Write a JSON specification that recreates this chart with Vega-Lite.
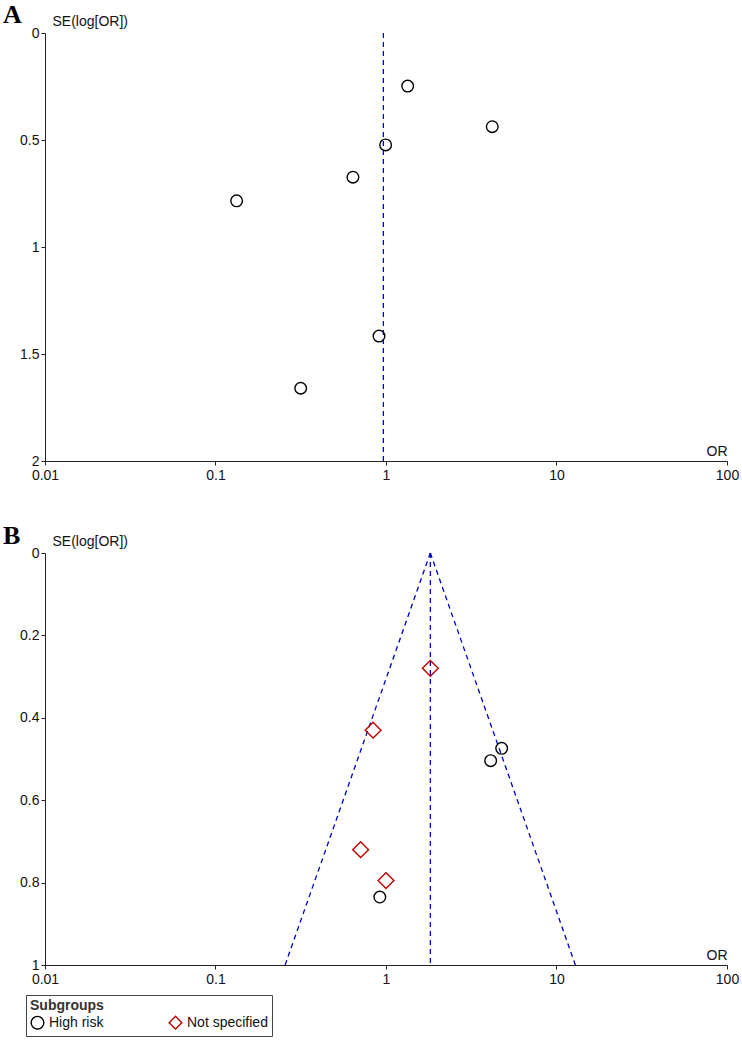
{
  "$schema": "https://vega.github.io/schema/vega-lite/v6.json",
  "background": "white",
  "padding": {"left": 3, "top": 2, "right": 5, "bottom": 0},
  "datasets": {
    "pointsA": [
      {"or": 1.34, "se": 0.248, "subgroup": "High risk"},
      {"or": 4.2, "se": 0.438, "subgroup": "High risk"},
      {"or": 0.995, "se": 0.523, "subgroup": "High risk"},
      {"or": 0.64, "se": 0.674, "subgroup": "High risk"},
      {"or": 0.133, "se": 0.784, "subgroup": "High risk"},
      {"or": 0.91, "se": 1.416, "subgroup": "High risk"},
      {"or": 0.316, "se": 1.66, "subgroup": "High risk"}
    ],
    "lineA": [
      {"or": 0.965, "se": 0, "line": "mid"},
      {"or": 0.965, "se": 2, "line": "mid"}
    ],
    "pointsB": [
      {"or": 1.82, "se": 0.28, "subgroup": "Not specified"},
      {"or": 0.84, "se": 0.43, "subgroup": "Not specified"},
      {"or": 4.77, "se": 0.474, "subgroup": "High risk"},
      {"or": 4.11, "se": 0.504, "subgroup": "High risk"},
      {"or": 0.71, "se": 0.72, "subgroup": "Not specified"},
      {"or": 1.0, "se": 0.795, "subgroup": "Not specified"},
      {"or": 0.92, "se": 0.835, "subgroup": "High risk"}
    ],
    "lineB": [
      {"or": 1.82, "se": 0, "line": "left"},
      {"or": 0.256, "se": 1, "line": "left"},
      {"or": 1.82, "se": 0, "line": "mid"},
      {"or": 1.82, "se": 1, "line": "mid"},
      {"or": 1.82, "se": 0, "line": "right"},
      {"or": 12.9, "se": 1, "line": "right"}
    ]
  },
  "config": {
    "view": {"stroke": null},
    "font": "Liberation Sans",
    "axis": {
      "grid": false,
      "domainColor": "#222",
      "tickColor": "#222",
      "labelColor": "#111",
      "labelFont": "Liberation Sans",
      "labelFontSize": 14,
      "titleFont": "Liberation Sans",
      "titleFontSize": 14,
      "titleFontWeight": "normal",
      "titleColor": "#111",
      "tickSize": 4,
      "labelFlush": false,
      "labelOverlap": false
    },
    "title": {"font": "Liberation Serif", "fontSize": 26, "fontWeight": "bold", "anchor": "start", "frame": "group", "color": "#000"},
    "legend": {
      "orient": "none",
      "legendX": -19,
      "legendY": 962,
      "direction": "horizontal",
      "columns": 2,
      "columnPadding": 36,
      "strokeColor": "#444",
      "padding": 4,
      "titlePadding": 2,
      "titleFontWeight": "bold",
      "titleFontSize": 14,
      "titleColor": "#333",
      "labelFontSize": 14,
      "labelColor": "#111",
      "labelFont": "Liberation Sans",
      "titleFont": "Liberation Sans",
      "symbolStrokeWidth": 1.4,
      "symbolSize": 160,
      "gridAlign": "all"
    },
    "concat": {"spacing": 41}
  },
  "vconcat": [
    {
      "width": 682,
      "height": 428,
      "title": {"text": "A", "dx": -42, "dy": 44, "offset": 9, "baseline": "alphabetic"},
      "encoding": {
        "x": {
          "field": "or", "type": "quantitative",
          "scale": {"type": "log", "domain": [0.01, 100]},
          "axis": {"values": [0.01, 0.1, 1, 10, 100], "format": "~g", "title": "OR", "titleX": 682, "titleY": -3, "titleAlign": "right", "titleBaseline": "bottom", "titleAngle": 0, "labelPadding": 3}
        },
        "y": {
          "field": "se", "type": "quantitative",
          "scale": {"domain": [0, 2], "reverse": true, "nice": false, "zero": false},
          "axis": {"values": [0, 0.5, 1, 1.5, 2], "format": "~g", "title": "SE(log[OR])", "titleAngle": 0, "titleX": 7, "titleY": -12, "titleAlign": "left", "titleBaseline": "middle", "labelPadding": 2}
        }
      },
      "layer": [
        {
          "data": {"name": "lineA"},
          "mark": {"type": "line", "color": "#0000cc", "strokeDash": [5, 4], "strokeWidth": 1.3},
          "encoding": {"detail": {"field": "line"}}
        },
        {
          "data": {"name": "pointsA"},
          "mark": {"type": "point", "shape": "circle", "size": 135, "strokeWidth": 1.4, "color": "#000", "filled": false, "opacity": 1}
        }
      ]
    },
    {
      "width": 682,
      "height": 412,
      "title": {"text": "B", "dx": -42, "dy": 44, "offset": 8, "baseline": "alphabetic"},
      "encoding": {
        "x": {
          "field": "or", "type": "quantitative",
          "scale": {"type": "log", "domain": [0.01, 100]},
          "axis": {"values": [0.01, 0.1, 1, 10, 100], "format": "~g", "title": "OR", "titleX": 682, "titleY": -3, "titleAlign": "right", "titleBaseline": "bottom", "titleAngle": 0, "labelPadding": 3}
        },
        "y": {
          "field": "se", "type": "quantitative",
          "scale": {"domain": [0, 1], "reverse": true, "nice": false, "zero": false},
          "axis": {"values": [0, 0.2, 0.4, 0.6, 0.8, 1], "format": "~g", "title": "SE(log[OR])", "titleAngle": 0, "titleX": 7, "titleY": -12, "titleAlign": "left", "titleBaseline": "middle", "labelPadding": 2}
        }
      },
      "layer": [
        {
          "data": {"name": "lineB"},
          "mark": {"type": "line", "color": "#0000cc", "strokeDash": [5, 4], "strokeWidth": 1.3},
          "encoding": {"detail": {"field": "line"}}
        },
        {
          "data": {"name": "pointsB"},
          "mark": {"type": "point", "strokeWidth": 1.4, "filled": false, "opacity": 1},
          "encoding": {
            "shape": {"field": "subgroup", "type": "nominal", "scale": {"domain": ["High risk", "Not specified"], "range": ["circle", "diamond"]}, "legend": {"title": "Subgroups"}},
            "color": {"field": "subgroup", "type": "nominal", "scale": {"domain": ["High risk", "Not specified"], "range": ["#000000", "#c00000"]}, "legend": {"title": "Subgroups"}},
            "size": {"condition": {"test": "datum.subgroup === 'Not specified'", "value": 250}, "value": 135}
          }
        }
      ]
    }
  ]
}
